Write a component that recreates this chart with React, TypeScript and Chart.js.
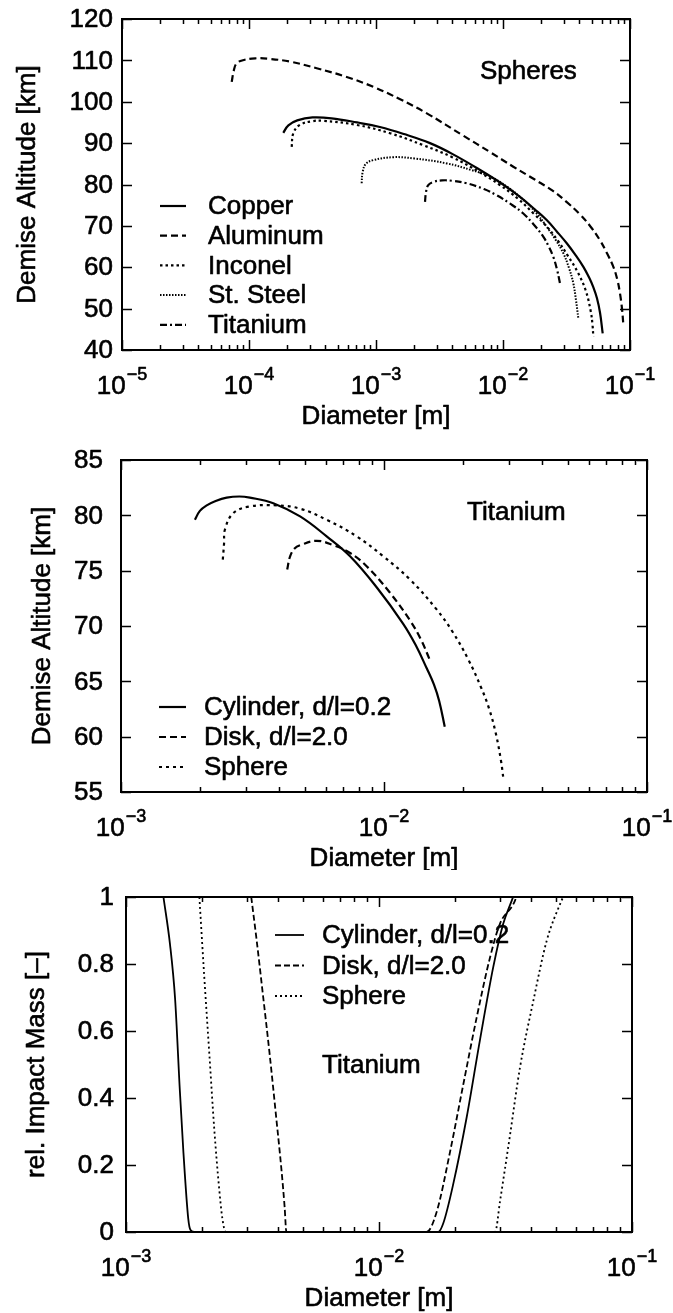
import React, { useEffect, useRef } from 'react';
import { Chart, registerables } from 'chart.js';

Chart.register(...registerables);

const FONT_FAMILY = '"Liberation Sans", Arial, Helvetica, sans-serif';

// ---------- Panel 1: Spheres, demise altitude vs diameter ----------
const p1Labels = ['Copper', 'Aluminum', 'Inconel', 'St. Steel', 'Titanium'];
const copperX = [1.862e-4, 2.042e-4, 2.399e-4, 3.162e-4, 4.467e-4, 7.079e-4, 1.072e-3, 1.66e-3, 2.661e-3, 3.981e-3, 6.607e-3, 1.0e-2, 1.361e-2, 1.778e-2, 2.208e-2, 2.661e-2, 3.177e-2, 3.715e-2, 4.295e-2, 4.786e-2, 5.14e-2, 5.495e-2, 5.808e-2, 6.095e-2];
const copperY = [92.5, 94.3, 95.5, 96.2, 96.0, 95.0, 93.9, 92.2, 90.0, 87.4, 83.5, 80.0, 77.0, 74.0, 71.4, 68.6, 65.8, 63.0, 60.1, 57.4, 55.2, 52.5, 49.0, 44.0];
const aluminumX = [7.311e-5, 7.586e-5, 7.998e-5, 9.12e-5, 1.122e-4, 1.413e-4, 2.104e-4, 3.412e-4, 5.875e-4, 9.528e-4, 1.549e-3, 2.512e-3, 4.864e-3, 7.943e-3, 1.205e-2, 1.778e-2, 2.489e-2, 3.162e-2, 4.036e-2, 4.898e-2, 5.808e-2, 6.607e-2, 7.396e-2, 7.943e-2, 8.337e-2, 8.65e-2, 8.851e-2];
const aluminumY = [104.8, 107.5, 109.3, 110.1, 110.5, 110.4, 109.7, 108.1, 106.0, 103.6, 100.6, 97.2, 91.8, 87.8, 84.3, 81.2, 78.4, 75.8, 72.8, 69.8, 66.5, 63.3, 60.1, 57.0, 53.7, 50.0, 46.4];
const inconelX = [2.168e-4, 2.234e-4, 2.512e-4, 3.162e-4, 3.846e-4, 7.047e-4, 1.288e-3, 2.355e-3, 3.981e-3, 6.607e-3, 9.333e-3, 1.318e-2, 1.738e-2, 2.188e-2, 2.692e-2, 3.236e-2, 3.89e-2, 4.467e-2, 4.898e-2, 5.07e-2, 5.14e-2];
const inconelY = [89.1, 92.4, 94.4, 95.3, 95.4, 94.4, 92.4, 89.5, 86.6, 82.9, 80.0, 76.5, 73.0, 70.0, 66.5, 62.8, 58.7, 54.5, 49.5, 46.0, 43.2];
const steelX = [7.709e-4, 7.852e-4, 8.318e-4, 9.528e-4, 1.368e-3, 1.995e-3, 3.606e-3, 5.623e-3, 7.943e-3, 1.096e-2, 1.445e-2, 1.82e-2, 2.208e-2, 2.6e-2, 2.985e-2, 3.311e-2, 3.581e-2, 3.758e-2, 3.917e-2];
const steelY = [80.3, 83.0, 85.0, 85.9, 86.6, 86.3, 85.1, 83.5, 81.9, 79.3, 76.3, 73.2, 69.8, 66.6, 63.4, 59.8, 56.1, 52.0, 47.7];
const titaniumX = [2.432e-3, 2.472e-3, 2.57e-3, 2.818e-3, 3.311e-3, 3.981e-3, 5.176e-3, 7.079e-3, 8.913e-3, 1.148e-2, 1.445e-2, 1.738e-2, 2.075e-2, 2.291e-2, 2.489e-2, 2.661e-2, 2.812e-2];
const titaniumY = [75.8, 78.0, 79.8, 80.6, 81.0, 80.9, 80.3, 78.9, 77.4, 75.3, 73.0, 70.4, 67.4, 65.0, 62.5, 59.5, 56.1];
const p1YTicks = [40, 50, 60, 70, 80, 90, 100, 110, 120];
const p1XDecades = [-5, -4, -3, -2, -1];

// ---------- Panel 2: Titanium shapes, demise altitude ----------
const shapeLabels = ['Cylinder, d/l=0.2', 'Disk, d/l=2.0', 'Sphere'];
const cylAltX = [1.91e-3, 1.995e-3, 2.118e-3, 2.291e-3, 2.523e-3, 2.818e-3, 3.09e-3, 3.793e-3, 4.797e-3, 6.053e-3, 7.43e-3, 9.376e-3, 1.183e-2, 1.318e-2, 1.452e-2, 1.549e-2, 1.622e-2, 1.702e-2];
const cylAltY = [79.6, 80.4, 80.9, 81.3, 81.6, 81.7, 81.6, 81.1, 79.9, 78.1, 76.3, 73.5, 70.2, 68.3, 66.2, 64.7, 63.2, 60.9];
const diskAltX = [4.285e-3, 4.395e-3, 4.571e-3, 4.797e-3, 5.546e-3, 6.412e-3, 7.43e-3, 8.59e-3, 1.054e-2, 1.256e-2, 1.38e-2, 1.496e-2];
const diskAltY = [75.1, 76.3, 77.0, 77.3, 77.7, 77.3, 76.6, 75.4, 73.0, 70.5, 68.8, 66.9];
const sphAltX = [2.438e-3, 2.466e-3, 2.483e-3, 2.673e-3, 3.09e-3, 3.908e-3, 4.797e-3, 6.053e-3, 7.87e-3, 9.931e-3, 1.256e-2, 1.585e-2, 1.82e-2, 2.089e-2, 2.344e-2, 2.512e-2, 2.661e-2, 2.786e-2, 2.851e-2];
const sphAltY = [76.0, 77.5, 78.7, 80.2, 80.8, 80.9, 80.6, 79.6, 78.1, 76.3, 74.2, 71.5, 69.5, 67.0, 64.4, 62.5, 60.3, 57.8, 56.0];
const p2YTicks = [55, 60, 65, 70, 75, 80, 85];
const p2XDecades = [-3, -2, -1];

// ---------- Panel 3: Titanium shapes, relative impact mass ----------
const cylMassX = [1.406e-3, 1.493e-3, 1.563e-3, 1.633e-3, 1.687e-3, 1.762e-3, 1.799e-3, 1.871e-3, 1.714e-2, 1.795e-2, 1.968e-2, 2.223e-2, 2.506e-2, 2.831e-2, 3.097e-2, 3.35e-2, 3.388e-2];
const cylMassY = [1.0, 0.858, 0.697, 0.42, 0.236, 0.04, 0.006, 0.0, 0.0, 0.026, 0.145, 0.344, 0.573, 0.792, 0.92, 0.99, 1.0];
const diskMassX = [3.126e-3, 3.273e-3, 3.475e-3, 3.69e-3, 3.926e-3, 4.111e-3, 4.236e-3, 4.305e-3, 1.542e-2, 1.69e-2, 1.91e-2, 2.153e-2, 2.432e-2, 2.748e-2, 3.006e-2, 3.451e-2, 3.483e-2];
const diskMassY = [1.0, 0.88, 0.71, 0.536, 0.34, 0.19, 0.075, 0.0, 0.0, 0.06, 0.24, 0.44, 0.64, 0.82, 0.92, 0.99, 1.0];
const sphMassX = [1.95e-3, 2.037e-3, 2.133e-3, 2.234e-3, 2.333e-3, 2.404e-3, 2.477e-3, 2.877e-2, 3.006e-2, 3.296e-2, 3.606e-2, 4.074e-2, 4.603e-2, 5.272e-2, 5.346e-2];
const sphMassY = [1.0, 0.766, 0.536, 0.305, 0.132, 0.04, 0.0, 0.0, 0.09, 0.29, 0.49, 0.69, 0.87, 0.99, 1.0];
const p3YTicks = [0, 0.2, 0.4, 0.6, 0.8, 1];
const p3YTickLabels = ['0', '0.2', '0.4', '0.6', '0.8', '1'];
const p3XDecades = [-3, -2, -1];

type Series = { label: string; x: number[]; y: number[]; dash: number[]; width: number };
type PanelCfg = {
  top: number;
  height: number;
  padding: { left: number; right: number; top: number; bottom: number };
  xMin: number;
  xMax: number;
  yMin: number;
  yMax: number;
  yTicks: number[];
  yTickLabels: string[];
  xDecades: number[];
  yLabelRight: number;
  yTitle: string;
  yTitleX: number;
  note: string;
  noteX: number;
  noteY: number;
  series: Series[];
  smooth: boolean;
  legX0: number;
  legX1: number;
  legTextX: number;
  legY0: number;
  legDy: number;
};

const MAIN_FONT = `26px ${FONT_FAMILY}`;
const SUP_FONT = `18px ${FONT_FAMILY}`;

function heavyText(ctx: CanvasRenderingContext2D, text: string, x: number, y: number) {
  ctx.fillText(text, x, y);
  ctx.save();
  ctx.setLineDash([]);
  ctx.lineWidth = 0.6;
  ctx.lineJoin = 'round';
  ctx.strokeText(text, x, y);
  ctx.restore();
}

function makeAxesPlugin(cfg: PanelCfg) {
  return {
    id: 'gnuAxes',
    afterDraw(chart: any) {
      const ctx: CanvasRenderingContext2D = chart.ctx;
      const a = chart.chartArea;
      const xs = chart.scales.x;
      const ys = chart.scales.y;
      ctx.save();
      ctx.fillStyle = '#000';
      ctx.strokeStyle = '#000';
      ctx.setLineDash([]);

      // inward tick marks
      ctx.lineWidth = 1.5;
      ctx.beginPath();
      for (let i = 0; i < cfg.xDecades.length; i++) {
        const e = cfg.xDecades[i];
        for (let m = 1; m <= 9; m++) {
          const v = m * Math.pow(10, e);
          if (v > cfg.xMax * 1.0001 || v < cfg.xMin * 0.9999) continue;
          const px = Math.round(xs.getPixelForValue(v)) + 0.5;
          const len = m === 1 ? 10 : 5;
          ctx.moveTo(px, a.bottom);
          ctx.lineTo(px, a.bottom - len);
          ctx.moveTo(px, a.top);
          ctx.lineTo(px, a.top + len);
        }
      }
      for (const v of cfg.yTicks) {
        const py = Math.round(ys.getPixelForValue(v)) + 0.5;
        ctx.moveTo(a.left, py);
        ctx.lineTo(a.left + 10, py);
        ctx.moveTo(a.right, py);
        ctx.lineTo(a.right - 10, py);
      }
      ctx.stroke();

      // frame
      ctx.lineWidth = 2;
      ctx.strokeRect(a.left, a.top, a.right - a.left, a.bottom - a.top);

      // y tick labels
      ctx.font = MAIN_FONT;
      ctx.textAlign = 'right';
      ctx.textBaseline = 'middle';
      cfg.yTicks.forEach((v, i) => {
        heavyText(ctx, cfg.yTickLabels[i], cfg.yLabelRight, ys.getPixelForValue(v) + 1);
      });

      // x tick labels: 10^e
      ctx.textAlign = 'left';
      ctx.textBaseline = 'alphabetic';
      for (const e of cfg.xDecades) {
        const px = xs.getPixelForValue(Math.pow(10, e));
        const base = '10';
        const exp = '\u2212' + Math.abs(e);
        ctx.font = MAIN_FONT;
        const w1 = ctx.measureText(base).width;
        ctx.font = SUP_FONT;
        const w2 = ctx.measureText(exp).width;
        const x0 = px - (w1 + w2 + 1) / 2;
        ctx.font = MAIN_FONT;
        heavyText(ctx, base, x0, a.bottom + 44);
        ctx.font = SUP_FONT;
        heavyText(ctx, exp, x0 + w1 + 1, a.bottom + 30);
      }

      // x title
      ctx.font = MAIN_FONT;
      ctx.textAlign = 'center';
      ctx.textBaseline = 'middle';
      heavyText(ctx, 'Diameter [m]', (a.left + a.right) / 2, a.bottom + 67);

      // y title
      ctx.save();
      ctx.translate(cfg.yTitleX, (a.top + a.bottom) / 2);
      ctx.rotate(-Math.PI / 2);
      heavyText(ctx, cfg.yTitle, 0, 0);
      ctx.restore();

      // annotation
      ctx.textAlign = 'left';
      heavyText(ctx, cfg.note, cfg.noteX, cfg.noteY);

      // legend
      cfg.series.forEach((s, i) => {
        const y = cfg.legY0 + i * cfg.legDy;
        ctx.save();
        ctx.lineWidth = s.width;
        ctx.setLineDash(s.dash);
        ctx.beginPath();
        ctx.moveTo(cfg.legX0, y);
        ctx.lineTo(cfg.legX1, y);
        ctx.stroke();
        ctx.restore();
        ctx.font = MAIN_FONT;
        ctx.textAlign = 'left';
        ctx.textBaseline = 'middle';
        heavyText(ctx, s.label, cfg.legTextX, y + 1);
      });
      ctx.restore();
    },
  };
}

const panels: PanelCfg[] = [
  {
    top: 0,
    height: 430,
    padding: { left: 122, right: 43, top: 19, bottom: 80 },
    xMin: 1e-5,
    xMax: 1e-1,
    yMin: 40,
    yMax: 120,
    yTicks: p1YTicks,
    yTickLabels: p1YTicks.map(String),
    xDecades: p1XDecades,
    yLabelRight: 113,
    yTitle: 'Demise Altitude [km]',
    yTitleX: 28,
    note: 'Spheres',
    noteX: 480,
    noteY: 72,
    series: [
      { label: p1Labels[0], x: copperX, y: copperY, dash: [], width: 2.2 },
      { label: p1Labels[1], x: aluminumX, y: aluminumY, dash: [7, 4], width: 2.2 },
      { label: p1Labels[2], x: inconelX, y: inconelY, dash: [2.5, 3], width: 2.2 },
      { label: p1Labels[3], x: steelX, y: steelY, dash: [1.5, 1.5], width: 2 },
      { label: p1Labels[4], x: titaniumX, y: titaniumY, dash: [7, 3, 2, 3], width: 2.2 },
    ],
    smooth: true,
    legX0: 160,
    legX1: 186,
    legTextX: 208,
    legY0: 206,
    legDy: 29.7,
  },
  {
    top: 430,
    height: 440,
    padding: { left: 121, right: 26, top: 30, bottom: 78 },
    xMin: 1e-3,
    xMax: 1e-1,
    yMin: 55,
    yMax: 85,
    yTicks: p2YTicks,
    yTickLabels: p2YTicks.map(String),
    xDecades: p2XDecades,
    yLabelRight: 103,
    yTitle: 'Demise Altitude [km]',
    yTitleX: 43,
    note: 'Titanium',
    noteX: 467,
    noteY: 83,
    series: [
      { label: shapeLabels[0], x: cylAltX, y: cylAltY, dash: [], width: 2.2 },
      { label: shapeLabels[1], x: diskAltX, y: diskAltY, dash: [7, 4], width: 2.2 },
      { label: shapeLabels[2], x: sphAltX, y: sphAltY, dash: [3, 4], width: 2.2 },
    ],
    smooth: true,
    legX0: 159,
    legX1: 186,
    legTextX: 204,
    legY0: 277,
    legDy: 30,
  },
  {
    top: 870,
    height: 443,
    padding: { left: 126, right: 41, top: 27, bottom: 81 },
    xMin: 1e-3,
    xMax: 1e-1,
    yMin: 0,
    yMax: 1,
    yTicks: p3YTicks,
    yTickLabels: p3YTickLabels,
    xDecades: p3XDecades,
    yLabelRight: 114,
    yTitle: 'rel. Impact Mass [\u2013]',
    yTitleX: 37,
    note: 'Titanium',
    noteX: 322,
    noteY: 196,
    series: [
      { label: shapeLabels[0], x: cylMassX, y: cylMassY, dash: [], width: 1.8 },
      { label: shapeLabels[1], x: diskMassX, y: diskMassY, dash: [6, 3], width: 1.8 },
      { label: shapeLabels[2], x: sphMassX, y: sphMassY, dash: [2, 3], width: 1.8 },
    ],
    smooth: false,
    legX0: 275,
    legX1: 304,
    legTextX: 322,
    legY0: 65,
    legDy: 30.5,
  },
];

function toPoints(xs: number[], ys: number[]) {
  return xs.map((x, i) => ({ x, y: ys[i] }));
}

function Panel({ cfg }: { cfg: PanelCfg }) {
  const ref = useRef<HTMLCanvasElement | null>(null);
  useEffect(() => {
    const canvas = ref.current;
    if (!canvas) return;
    const chart = new Chart(canvas, {
      type: 'scatter',
      data: {
        datasets: cfg.series.map((s) => ({
          label: s.label,
          data: toPoints(s.x, s.y),
          showLine: true,
          borderColor: '#000',
          backgroundColor: '#000',
          borderWidth: s.width,
          borderDash: s.dash,
          pointRadius: 0,
          pointHoverRadius: 0,
          fill: false,
          tension: cfg.smooth ? 0.4 : 0,
          cubicInterpolationMode: cfg.smooth ? 'default' : 'monotone',
        })),
      } as any,
      options: {
        responsive: false,
        animation: false,
        devicePixelRatio: 1,
        events: [],
        layout: { padding: cfg.padding },
        plugins: { legend: { display: false }, tooltip: { enabled: false } },
        scales: {
          x: { type: 'logarithmic', min: cfg.xMin, max: cfg.xMax, display: false },
          y: { type: 'linear', min: cfg.yMin, max: cfg.yMax, display: false },
        },
      } as any,
      plugins: [makeAxesPlugin(cfg) as any],
    });
    return () => chart.destroy();
  }, [cfg]);
  return (
    <canvas
      ref={ref}
      width={673}
      height={cfg.height}
      style={{ position: 'absolute', left: 0, top: cfg.top, width: 673, height: cfg.height, display: 'block' }}
    />
  );
}

export default function App() {
  useEffect(() => {
    document.body.style.margin = '0';
    document.body.style.overflow = 'hidden';
    document.body.style.background = '#fff';
  }, []);
  return (
    <div style={{ position: 'relative', width: 673, height: 1313, background: '#fff' }}>
      {panels.map((p, i) => (
        <Panel key={i} cfg={p} />
      ))}
    </div>
  );
}
